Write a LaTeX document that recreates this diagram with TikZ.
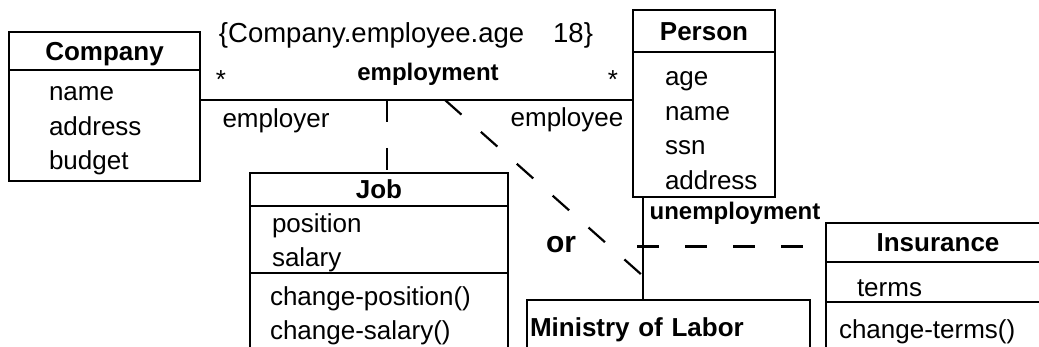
\documentclass[tikz,border=0pt]{standalone}
\usepackage{fontspec}
\setmainfont{Liberation Sans}
\usetikzlibrary{positioning}

\begin{document}
\begin{tikzpicture}
  [x=1pt, y=-1pt,
   every node/.style={font=\fontsize{26}{34.5}\selectfont, inner sep=0pt, outer sep=0pt},
   classname/.style={draw, line width=2.4pt, anchor=north west, font=\fontsize{26}{34.5}\selectfont\bfseries, text height=19pt, text depth=0pt},
   compartment/.style={draw, line width=2.4pt, below=0pt of #1},
   members/.style={align=left, text width=230pt, yshift=-3pt, execute at begin node=\strut, execute at end node=\strut},
   assocname/.style={anchor=base, font=\fontsize{24}{30}\selectfont\bfseries},
   rolename/.style={anchor=base},
   assoc/.style={line width=2.2pt},
   link/.style={line width=2.2pt, dash pattern=on 22pt off 26pt}]
  \useasboundingbox (0,0) rectangle (1039,347);
  \clip (0,0) rectangle (1039,347);

  \node[classname, minimum width=191pt, minimum height=38pt] (companyhead) at (9,32) {Company};
  \node[compartment=companyhead, minimum width=191pt, minimum height=111pt] (companybody) {};
  \node[members, right=40pt of companybody.west] (companyattr) {name\\address\\budget};

  \node[classname, minimum width=142pt, minimum height=42pt] (personhead) at (633,10) {Person};
  \node[compartment=personhead, minimum width=142pt, minimum height=145pt] (personbody) {};
  \node[members, right=32pt of personbody.west, yshift=-3pt] (personattr) {age\\name\\ssn\\address};

  \node[classname, minimum width=258pt, minimum height=33pt] (jobhead) at (250,173) {Job};
  \node[compartment=jobhead, minimum width=258pt, minimum height=67pt] (jobattrbox) {};
  \node[members, right=22pt of jobattrbox.west] (jobattr) {position\\salary};
  \node[compartment=jobattrbox, minimum width=258pt, minimum height=89pt] (jobopbox) {};
  \node[members, right=20pt of jobopbox.west, yshift=5pt] (jobop) {change-position()\\change-salary()};

  \node[classname, minimum width=283pt, minimum height=55pt, text width=277pt, inner xsep=3pt, align=left] (ministry) at (527,300) {Ministry of Labor};

  \node[classname, minimum width=224pt, minimum height=39pt] (insurancehead) at (826,223) {Insurance};
  \node[compartment=insurancehead, minimum width=224pt, minimum height=40pt] (insattrbox) {};
  \node[members, right=31pt of insattrbox.west, yshift=-5pt] (insattr) {terms};
  \node[compartment=insattrbox, minimum width=224pt, minimum height=53pt] (insopbox) {};
  \node[members, right=13pt of insopbox.west] (insop) {change-terms()};

  \draw[assoc] ([yshift=-30pt]companybody.north east) coordinate (emplL) -- (emplL -| personbody.west) coordinate (emplR);
  \draw[assoc] ([xshift=10pt]personbody.south west) coordinate (unemplT) -- (unemplT |- ministry.north) coordinate (unemplB);
  \coordinate (jobtie) at ([xshift=8pt]jobhead.north);
  \draw[link] (jobtie |- emplL) -- (jobtie);
  \draw[link] ([xshift=245pt]emplL) -- ([yshift=24pt]unemplB);
  \coordinate (instie) at ([yshift=-4pt]insurancehead.west);
  \draw[link] (unemplT |- instie) ++(-6,0) -- (instie);

  \node[rolename, font=\fontsize{27.5}{34.5}\selectfont] (constraint) at (406,43) {\{Company.employee.age\hspace{29pt}18\}};
  \node[rolename] (multL) at (221,89) {*};
  \node[rolename] (multR) at (613,89) {*};
  \node[assocname] (employment) at (428,81) {employment};
  \node[rolename] (employer) at (276,128) {employer};
  \node[rolename] (employee) at (567,127) {employee};
  \node[assocname] (unemployment) at (735,220) {unemployment};
  \node[assocname, font=\fontsize{30}{36}\selectfont\bfseries] (orlabel) at (561,253) {or};
\end{tikzpicture}
\end{document}
